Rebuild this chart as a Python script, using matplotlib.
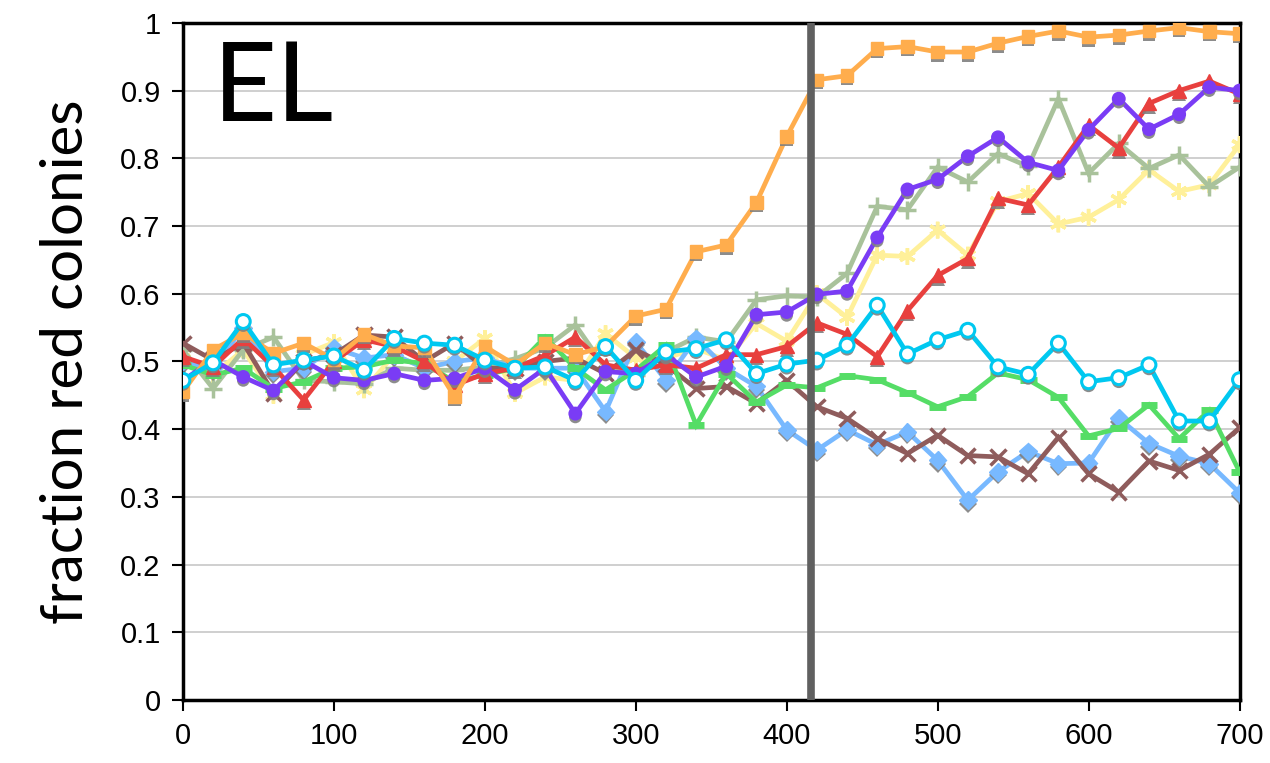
import matplotlib
matplotlib.use("Agg")
import matplotlib.pyplot as plt
import matplotlib.patheffects as pe

# time points (x axis)
x = [0, 20, 40, 60, 80, 100, 120, 140, 160, 180, 200, 220, 240, 260, 280, 300, 320, 340,
     360, 380, 400, 420, 440, 460, 480, 500, 520, 540, 560, 580, 600, 620, 640, 660, 680, 700]

orange = [0.455, 0.517, 0.542, 0.512, 0.527, 0.503, 0.540, 0.523, 0.520, 0.448, 0.522, 0.495,
          0.527, 0.510, 0.522, 0.567, 0.577, 0.662, 0.672, 0.735, 0.832, 0.916, 0.922, 0.962,
          0.965, 0.957, 0.957, 0.970, 0.980, 0.988, 0.979, 0.982, 0.988, 0.993, 0.987, 0.984]
purple = [0.472, 0.502, 0.477, 0.457, 0.501, 0.476, 0.472, 0.482, 0.472, 0.475, 0.490, 0.458,
          0.490, 0.423, 0.485, 0.482, 0.510, 0.477, 0.493, 0.569, 0.573, 0.599, 0.604, 0.683,
          0.754, 0.769, 0.803, 0.831, 0.794, 0.782, 0.842, 0.888, 0.843, 0.865, 0.905, 0.900]
red = [0.507, 0.492, 0.534, 0.492, 0.443, 0.500, 0.532, 0.522, 0.500, 0.465, 0.482, 0.490,
       0.509, 0.536, 0.495, 0.487, 0.495, 0.490, 0.510, 0.510, 0.522, 0.557, 0.540, 0.507,
       0.575, 0.627, 0.652, 0.741, 0.731, 0.787, 0.849, 0.815, 0.881, 0.900, 0.914, 0.895]
graygreen = [0.517, 0.460, 0.517, 0.536, 0.472, 0.470, 0.467, 0.490, 0.487, 0.487, 0.492, 0.504,
             0.520, 0.554, 0.490, 0.480, 0.514, 0.536, 0.529, 0.591, 0.597, 0.595, 0.630, 0.729,
             0.724, 0.787, 0.765, 0.807, 0.788, 0.888, 0.778, 0.822, 0.785, 0.805, 0.758, 0.787]
yellow = [0.504, 0.480, 0.517, 0.450, 0.510, 0.528, 0.458, 0.510, 0.490, 0.500, 0.534, 0.453,
          0.477, 0.472, 0.541, 0.505, 0.505, 0.519, 0.502, 0.556, 0.530, 0.600, 0.565, 0.657,
          0.655, 0.694, 0.657, 0.736, 0.748, 0.703, 0.713, 0.739, 0.783, 0.751, 0.761, 0.820]
cyan = [0.472, 0.498, 0.559, 0.495, 0.502, 0.508, 0.487, 0.534, 0.527, 0.524, 0.502, 0.490,
        0.492, 0.472, 0.522, 0.472, 0.514, 0.519, 0.532, 0.482, 0.496, 0.502, 0.524, 0.583,
        0.511, 0.532, 0.546, 0.492, 0.481, 0.527, 0.470, 0.476, 0.495, 0.412, 0.412, 0.473]
green = [0.495, 0.480, 0.490, 0.460, 0.470, 0.490, 0.492, 0.502, 0.497, 0.470, 0.480, 0.490,
         0.536, 0.490, 0.458, 0.487, 0.524, 0.406, 0.482, 0.440, 0.465, 0.461, 0.479, 0.473,
         0.454, 0.433, 0.448, 0.483, 0.473, 0.447, 0.390, 0.401, 0.436, 0.386, 0.428, 0.337]
lightblue = [0.500, 0.490, 0.550, 0.485, 0.490, 0.520, 0.505, 0.510, 0.490, 0.500, 0.505, 0.490,
             0.490, 0.490, 0.426, 0.529, 0.472, 0.534, 0.490, 0.463, 0.399, 0.369, 0.399, 0.377,
             0.396, 0.354, 0.295, 0.337, 0.367, 0.349, 0.350, 0.416, 0.379, 0.360, 0.349, 0.306]
brown = [0.527, 0.502, 0.527, 0.453, 0.500, 0.510, 0.539, 0.536, 0.500, 0.527, 0.490, 0.490,
         0.500, 0.505, 0.482, 0.517, 0.495, 0.460, 0.463, 0.438, 0.472, 0.433, 0.416, 0.386,
         0.364, 0.391, 0.361, 0.359, 0.334, 0.388, 0.334, 0.307, 0.353, 0.339, 0.363, 0.402]

y_ticks = [0, 0.1, 0.2, 0.3, 0.4, 0.5, 0.6, 0.7, 0.8, 0.9, 1]
y_ticklabels = ["0", "0.1", "0.2", "0.3", "0.4", "0.5", "0.6", "0.7", "0.8", "0.9", "1"]
x_ticks = [0, 100, 200, 300, 400, 500, 600, 700]
marker_line = 416

# drawing order: bottom -> top
series = [
    ("yellow", yellow, "#fff09a", (6, 2, 0), 12, True),
    ("graygreen", graygreen, "#a9c29b", "+", 13, True),
    ("lightblue", lightblue, "#78b9ff", "D", 9, True),
    ("brown", brown, "#8f5c5c", "x", 11, True),
    ("green", green, "#55dd66", "_", 12, True),
    ("red", red, "#e8403e", "^", 10, True),
    ("purple", purple, "#7a3cf5", "o", 9, True),
    ("orange", orange, "#ffad4d", "s", 9, True),
    ("cyan", cyan, "#00c8f0", "o", 10, False),
]

fig = plt.figure(figsize=(12.7, 7.63), dpi=100)
ax = fig.add_axes([0.144, 0.0826, 0.832, 0.8874])

shadow = [pe.SimplePatchShadow(offset=(0, -2.5), shadow_rgbFace="#808080", alpha=0.9), pe.Normal()]
for i, (name, ys, col, mk, ms, filled) in enumerate(series):
    ax.plot(x, ys, color=col, lw=3.4, zorder=3 + i * 0.1, solid_joinstyle="miter")
    kw = dict(marker=mk, ms=ms, color=col, ls="none", zorder=3.05 + i * 0.1,
              path_effects=shadow)
    if filled:
        kw.update(mfc=col, mec=col, mew=2.5 if mk in ("+", "x", "_", (6, 2, 0)) else 1)
    else:
        kw.update(mfc="white", mec=col, mew=2.2)
    if mk == "_":
        kw["mew"] = 5
    ax.plot(x, ys, **kw)

ax.axvline(marker_line, color="#606060", lw=5.5, zorder=5)

ax.set_xlim(0, 700)
ax.set_ylim(0, 1)
ax.set_yticks(y_ticks)
ax.set_yticklabels(y_ticklabels)
ax.set_xticks(x_ticks)
ax.yaxis.grid(True, color="#cccccc", lw=1.3)
ax.set_axisbelow(True)
for s in ax.spines.values():
    s.set_linewidth(2.5)
    s.set_color("black")
ax.tick_params(axis="both", direction="out", length=8, width=1.5, labelsize=21, pad=8)
for lab in ax.get_xticklabels() + ax.get_yticklabels():
    lab.set_fontfamily("Liberation Sans")

ax.set_ylabel("fraction red colonies", fontsize=42, family="Lato", labelpad=20)
ax.text(0.028, 0.975, "EL", transform=ax.transAxes, fontsize=80, family="Lato",
        va="top", ha="left")

fig.savefig("out.png", dpi=100)
